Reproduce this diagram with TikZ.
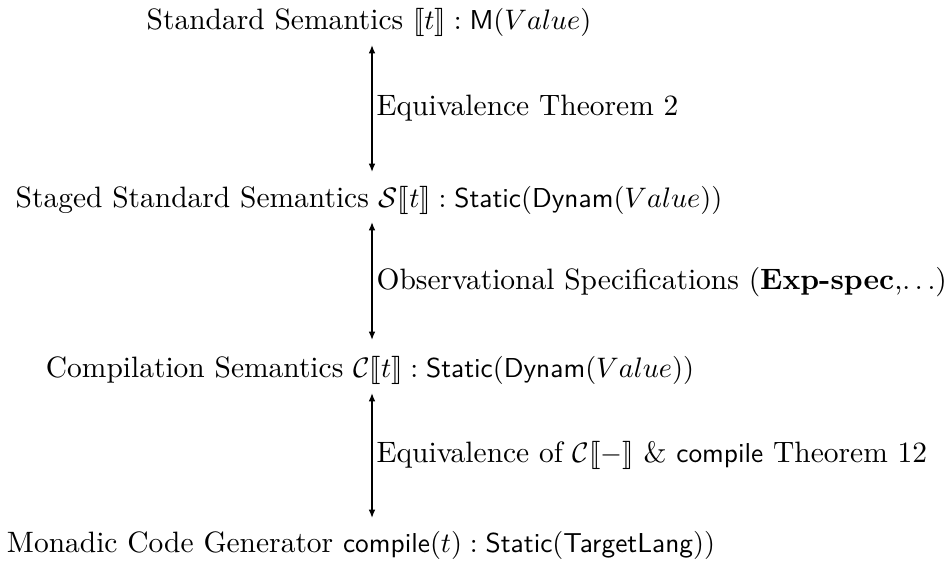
\documentclass[tikz,border=0pt]{standalone}
\usepackage{amsmath,amssymb,stmaryrd}
\usetikzlibrary{arrows.meta}
\newcommand{\sfx}[1]{\text{\fontsize{9.7}{12}\selectfont\sffamily #1}}
\begin{document}
\begin{tikzpicture}[x=0.3545pt,y=-0.3545pt,
  every node/.style={font=\fontsize{10.45}{12.5}\selectfont},
  term/.style={inner sep=0pt,anchor=base},
  lbl/.style={inner sep=0pt,anchor=west},
  link/.style={{Latex[length=3pt,width=2.4pt]}-{Latex[length=3pt,width=2.4pt]},line width=0.5pt}]
\useasboundingbox (0,0) rectangle (950,562);
\node[term] (std) at (369,29) {Standard Semantics $\llbracket t\rrbracket : \sfx{M}(Value)$};
\node[term] (stg) at (369,207) {Staged Standard Semantics $\mathcal{S}\llbracket t\rrbracket : \sfx{Static}(\sfx{Dynam}(Value))$};
\node[term] (cmp) at (370,377) {Compilation Semantics $\mathcal{C}\llbracket t\rrbracket : \sfx{Static}(\sfx{Dynam}(Value))$};
\node[term] (gen) at (361,552) {Monadic Code Generator $\sfx{compile}(t) : \sfx{Static}(\sfx{TargetLang}))$};
\coordinate (a1) at (372,45); \coordinate (b1) at (372,172);
\coordinate (a2) at (372,222); \coordinate (b2) at (372,340);
\coordinate (a3) at (372,393); \coordinate (b3) at (372,518);
\draw[link] (a1) -- (b1);
\draw[link] (a2) -- (b2);
\draw[link] (a3) -- (b3);
\node[lbl] (l1) at (376,108) {Equivalence Theorem 2};
\node[lbl] (l2) at (376,282) {Observational Specifications (\textbf{Exp-spec},$\ldots$)};
\node[lbl] (l3) at (376,455) {Equivalence of $\mathcal{C}\llbracket-\rrbracket$ \& $\sfx{compile}$ Theorem 12};
\end{tikzpicture}
\end{document}
